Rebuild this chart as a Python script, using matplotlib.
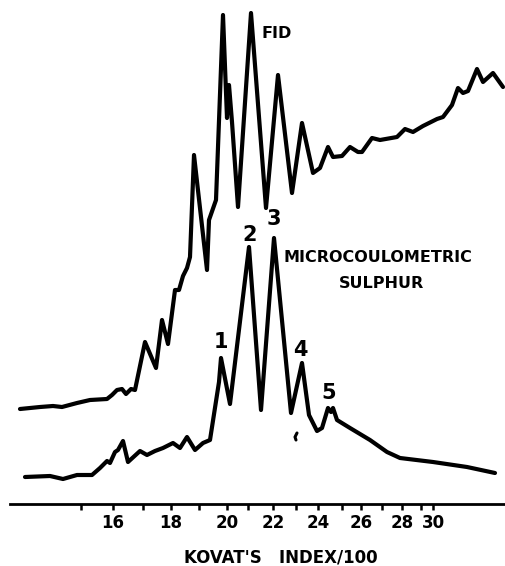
"""
Chromatogram: FID trace and microcoulometric sulphur trace vs Kovats index.
"""

import matplotlib
matplotlib.use('Agg')
import matplotlib.pyplot as plt

# Chart distance along the recorder trace (same units as the tick positions)
# and detector response above the baseline (arbitrary units).
fid_x = [20, 40, 53, 62, 77, 90, 107, 112, 117, 122, 126, 131, 135, 145, 156,
         162, 168, 175, 179, 183, 187, 190, 194, 207, 209, 216, 223, 227, 229,
         232, 238, 251, 266, 278, 292, 302, 313, 320, 328, 333, 342, 350, 358,
         362, 372, 380, 397, 405, 413, 423, 437, 443, 452, 458, 463, 468, 477,
         483, 493, 503]
fid_y = [95, 97, 98, 97, 101, 104, 105, 109, 114, 115, 110, 115, 114, 162, 136,
         184, 160, 214, 214, 228, 236, 247, 349, 234, 284, 304, 489, 386, 419,
         382, 297, 491, 296, 429, 311, 381, 331, 336, 357, 347, 348, 357, 352,
         352, 366, 364, 367, 375, 372, 378, 385, 387, 399, 416, 411, 413, 435,
         422, 431, 417]

sulphur_x = [25, 50, 63, 77, 92, 100, 107, 110, 115, 118, 123, 128, 140, 147,
             155, 163, 173, 180, 187, 195, 203, 210, 219, 221, 230, 249, 261,
             274, 291, 302, 309, 317, 322, 328, 331, 333, 337, 350, 370, 387,
             400, 433, 467, 495]
sulphur_y = [27, 28, 25, 29, 29, 36, 43, 41, 52, 54, 63, 42, 53, 49,
             53, 56, 61, 56, 67, 54, 61, 64, 122, 146, 100, 257, 94,
             266, 91, 141, 89, 73, 76, 96, 92, 96, 84, 76, 64, 52,
             46, 42, 37, 31]

# small pen mark below peak 4
mark_x = [297, 295, 296]
mark_y = [71, 67, 64]

# Kovats index / 100 and where each tick sits on the trace
tick_index = [15, 16, 17, 18, 19, 20, 21, 22, 23, 24, 25, 26, 27, 28, 29, 30]
tick_pos = [81, 113, 143, 171, 199, 227, 248, 273, 296, 318, 342, 361, 382,
            402, 421, 433]

# sulphur peak numbers
peak_labels = ['1', '2', '3', '4', '5']
peak_label_x = [221, 250, 274, 300, 329]
peak_label_y = [162, 269, 285, 154, 111]

W, H = 505, 566
fig = plt.figure(figsize=(W / 100, H / 100), dpi=100)
fig.patch.set_facecolor('white')
ax = fig.add_axes([10 / W, 62 / H, 495 / W, 504 / H])
ax.set_xlim(10, 505)
ax.set_ylim(0, 504)

trace = dict(color='black', lw=3.0, solid_joinstyle='round',
             solid_capstyle='round')
ax.plot(fid_x, fid_y, **trace)
ax.plot(sulphur_x, sulphur_y, **trace)
ax.plot(mark_x, mark_y, color='black', lw=2.2, solid_capstyle='round')

for s in ['top', 'right', 'left']:
    ax.spines[s].set_visible(False)
ax.spines['bottom'].set_linewidth(2.0)

major = [p for i, p in zip(tick_index, tick_pos) if i % 2 == 0]
minor = [p for i, p in zip(tick_index, tick_pos) if i % 2 == 1]
ax.set_xticks(major)
ax.set_xticklabels([str(i) for i in tick_index if i % 2 == 0],
                   fontsize=12, fontweight='bold')
ax.set_xticks(minor, minor=True)
ax.tick_params(axis='x', which='both', direction='out', length=4.5,
               width=1.8, pad=3)
ax.set_yticks([])

txt = dict(color='black', fontweight='bold', ha='center', va='center')
ax.text(277, 471, 'FID', fontsize=11.5, **txt)
ax.text(378, 247, 'MICROCOULOMETRIC', fontsize=11.5, **txt)
ax.text(381, 220, 'SULPHUR', fontsize=11.5, **txt)
for lab, x, y in zip(peak_labels, peak_label_x, peak_label_y):
    ax.text(x, y, lab, fontsize=15, **txt)

fig.text(281 / W, 1 - 557 / H, "KOVAT'S   INDEX/100", fontsize=12, **txt)

fig.savefig('out.png', dpi=100, facecolor='white')
